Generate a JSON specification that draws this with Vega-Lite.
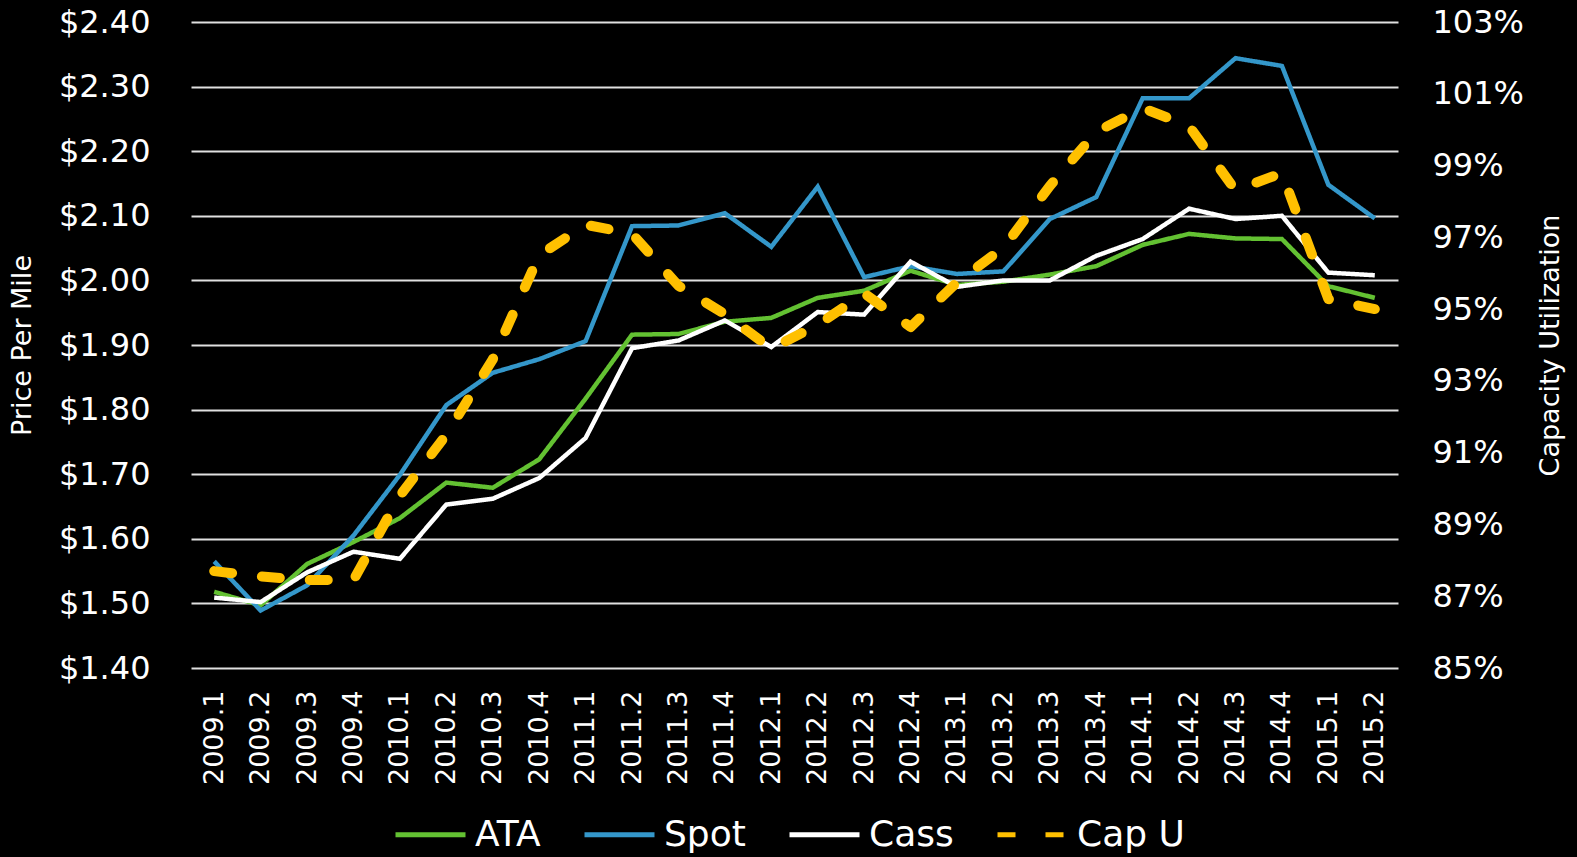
{
  "$schema": "https://vega.github.io/schema/vega-lite/v6.json",
  "width": 1207,
  "height": 646,
  "autosize": {"type": "none"},
  "padding": {"left": 191, "top": 22, "right": 179, "bottom": 189},
  "background": "black",
  "data": {
    "values": [
      {"q": "2009.1", "ATA": 1.518, "Spot": 1.565, "Cass": 1.509, "Cap U": 87.7},
      {"q": "2009.2", "ATA": 1.497, "Spot": 1.489, "Cass": 1.502, "Cap U": 87.55},
      {"q": "2009.3", "ATA": 1.561, "Spot": 1.528, "Cass": 1.548, "Cap U": 87.45},
      {"q": "2009.4", "ATA": 1.595, "Spot": 1.605, "Cass": 1.580, "Cap U": 87.45},
      {"q": "2010.1", "ATA": 1.632, "Spot": 1.699, "Cass": 1.569, "Cap U": 89.8},
      {"q": "2010.2", "ATA": 1.687, "Spot": 1.807, "Cass": 1.653, "Cap U": 91.5},
      {"q": "2010.3", "ATA": 1.679, "Spot": 1.857, "Cass": 1.662, "Cap U": 93.6},
      {"q": "2010.4", "ATA": 1.723, "Spot": 1.878, "Cass": 1.694, "Cap U": 96.5},
      {"q": "2011.1", "ATA": 1.817, "Spot": 1.906, "Cass": 1.756, "Cap U": 97.35},
      {"q": "2011.2", "ATA": 1.916, "Spot": 2.084, "Cass": 1.895, "Cap U": 97.1},
      {"q": "2011.3", "ATA": 1.917, "Spot": 2.085, "Cass": 1.907, "Cap U": 95.65},
      {"q": "2011.4", "ATA": 1.936, "Spot": 2.104, "Cass": 1.938, "Cap U": 94.86},
      {"q": "2012.1", "ATA": 1.942, "Spot": 2.052, "Cass": 1.897, "Cap U": 93.9},
      {"q": "2012.2", "ATA": 1.973, "Spot": 2.145, "Cass": 1.951, "Cap U": 94.56},
      {"q": "2012.3", "ATA": 1.984, "Spot": 2.005, "Cass": 1.947, "Cap U": 95.44},
      {"q": "2012.4", "ATA": 2.015, "Spot": 2.022, "Cass": 2.029, "Cap U": 94.5},
      {"q": "2013.1", "ATA": 1.993, "Spot": 2.010, "Cass": 1.990, "Cap U": 95.75},
      {"q": "2013.2", "ATA": 1.998, "Spot": 2.014, "Cass": 2.000, "Cap U": 96.71},
      {"q": "2013.3", "ATA": 2.009, "Spot": 2.095, "Cass": 2.000, "Cap U": 98.43},
      {"q": "2013.4", "ATA": 2.022, "Spot": 2.129, "Cass": 2.038, "Cap U": 99.94},
      {"q": "2014.1", "ATA": 2.055, "Spot": 2.282, "Cass": 2.064, "Cap U": 100.6},
      {"q": "2014.2", "ATA": 2.072, "Spot": 2.282, "Cass": 2.111, "Cap U": 100.1},
      {"q": "2014.3", "ATA": 2.065, "Spot": 2.344, "Cass": 2.095, "Cap U": 98.31},
      {"q": "2014.4", "ATA": 2.064, "Spot": 2.332, "Cass": 2.100, "Cap U": 98.79},
      {"q": "2015.1", "ATA": 1.991, "Spot": 2.148, "Cass": 2.012, "Cap U": 95.28},
      {"q": "2015.2", "ATA": 1.973, "Spot": 2.096, "Cass": 2.008, "Cap U": 95.0}
    ]
  },
  "encoding": {
    "x": {
      "field": "q",
      "type": "ordinal",
      "sort": null,
      "axis": {
        "title": null,
        "labelAngle": -90,
        "labelFontSize": 27,
        "labelPadding": 22,
        "ticks": false,
        "tickSize": 0,
        "domain": false,
        "grid": false
      }
    }
  },
  "layer": [
    {
      "transform": [{"fold": ["ATA", "Spot", "Cass"], "as": ["series", "value"]}],
      "mark": {"type": "line", "strokeWidth": 4.5, "strokeJoin": "miter"},
      "encoding": {
        "y": {
          "field": "value",
          "type": "quantitative",
          "scale": {"domain": [1.4, 2.4], "zero": false, "nice": false},
          "axis": {
            "title": "Price Per Mile",
            "orient": "left",
            "values": [1.4, 1.5, 1.6, 1.7, 1.8, 1.9, 2.0, 2.1, 2.2, 2.3, 2.4],
            "format": "$.2f",
            "labelFontSize": 32,
            "labelPadding": 41,
            "ticks": false,
            "tickSize": 0,
            "domain": false,
            "grid": true,
            "gridColor": "#e0e0e0",
            "gridWidth": 1.8,
            "titleFontSize": 27,
            "titleFontWeight": "normal",
            "titleAngle": -90,
            "titleAlign": "center",
            "titleBaseline": "middle",
            "titleX": -169,
            "titleY": 323
          }
        },
        "color": {
          "field": "series",
          "type": "nominal",
          "scale": {"domain": ["ATA", "Spot", "Cass", "Cap U"], "range": ["#63c132", "#3497ca", "#ffffff", "#ffc000"]},
          "legend": {"title": null}
        },
        "strokeDash": {
          "field": "series",
          "type": "nominal",
          "scale": {"domain": ["ATA", "Spot", "Cass", "Cap U"], "range": [[1, 0], [1, 0], [1, 0], [18, 30]]},
          "legend": {"title": null}
        }
      }
    },
    {
      "transform": [{"fold": ["Cap U"], "as": ["series", "value"]}],
      "mark": {"type": "line", "strokeWidth": 10, "strokeCap": "round", "strokeJoin": "round"},
      "encoding": {
        "y": {
          "field": "value",
          "type": "quantitative",
          "scale": {"domain": [85, 103], "zero": false, "nice": false},
          "axis": {
            "title": "Capacity Utilization",
            "orient": "right",
            "values": [85, 87, 89, 91, 93, 95, 97, 99, 101, 103],
            "labelExpr": "datum.value + '%'",
            "labelFontSize": 32,
            "labelPadding": 34,
            "ticks": false,
            "tickSize": 0,
            "domain": false,
            "grid": false,
            "titleFontSize": 27,
            "titleFontWeight": "normal",
            "titleAngle": -90,
            "titleAlign": "center",
            "titleBaseline": "middle",
            "titleX": 152,
            "titleY": 323
          }
        },
        "color": {
          "field": "series",
          "type": "nominal",
          "scale": {"domain": ["ATA", "Spot", "Cass", "Cap U"], "range": ["#63c132", "#3497ca", "#ffffff", "#ffc000"]},
          "legend": {"title": null}
        },
        "strokeDash": {
          "field": "series",
          "type": "nominal",
          "scale": {"domain": ["ATA", "Spot", "Cass", "Cap U"], "range": [[1, 0], [1, 0], [1, 0], [18, 30]]},
          "legend": {"title": null}
        }
      }
    }
  ],
  "resolve": {"scale": {"y": "independent"}},
  "config": {
    "font": "DejaVu Sans",
    "view": {"stroke": null},
    "axis": {"labelColor": "#ffffff", "titleColor": "#ffffff", "labelFont": "DejaVu Sans", "titleFont": "DejaVu Sans"},
    "legend": {
      "orient": "none",
      "legendX": 202,
      "legendY": 775,
      "direction": "horizontal",
      "symbolType": "stroke",
      "symbolSize": 4900,
      "symbolStrokeWidth": 5,
      "labelFontSize": 36,
      "labelColor": "#ffffff",
      "labelFont": "DejaVu Sans",
      "labelOffset": 7,
      "columnPadding": 33,
      "padding": 0,
      "labelLimit": 400
    }
  }
}
